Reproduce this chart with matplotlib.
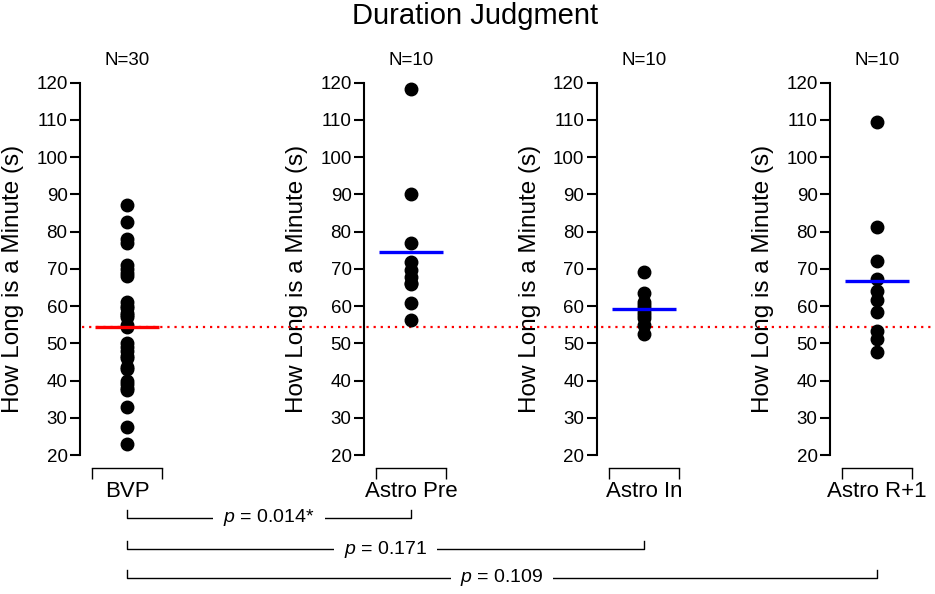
import numpy as np
import matplotlib
matplotlib.use("Agg")
import matplotlib.pyplot as plt
from matplotlib.lines import Line2D
from matplotlib.transforms import blended_transform_factory

plt.rcParams['font.family'] = ['Liberation Sans', 'DejaVu Sans']
plt.rcParams['mathtext.fontset'] = 'custom'
plt.rcParams['mathtext.rm'] = 'Liberation Sans'
plt.rcParams['mathtext.it'] = 'Liberation Sans:italic'

# data
groups = ["BVP", "Astro Pre", "Astro In", "Astro R+1"]
bvp = [87, 82.5, 78, 77, 71, 70, 69, 68, 61, 60, 59.5, 58, 57.5, 57, 55,
       54.5, 50, 49, 48, 46.5, 46, 43.5, 43, 40, 39, 38, 37.5, 33, 27.5, 23]
astro_pre = [118.3, 90.1, 77.0, 71.7, 69.7, 67.9, 66.1, 66.0, 60.9, 56.3]
astro_in = [69.1, 63.4, 61.0, 60.3, 59.5, 58.5, 57.5, 56.7, 54.9, 52.4]
astro_r1 = [109.5, 81.1, 72.2, 67.2, 64.0, 61.6, 58.5, 53.4, 51.1, 47.7]
all_data = [bvp, astro_pre, astro_in, astro_r1]
mean_colors = ["#ff0000", "#0000ff", "#0000ff", "#0000ff"]
p_labels = [r"$p$ = 0.014*", r"$p$ = 0.171", r"$p$ = 0.109"]
yticks = list(range(20, 121, 10))

W, H = 935, 594
fig = plt.figure(figsize=(W / 100, H / 100), dpi=100)

spine_x = [80, 364, 597, 830]   # left spine pixel of each panel
ax_w = 94
y_bot, y_top = 455, 82.6

axes = []
for i, vals in enumerate(all_data):
    ax = fig.add_axes([spine_x[i] / W, (H - y_bot) / H, ax_w / W, (y_bot - y_top) / H])
    ax.patch.set_visible(False)
    ax.set_xlim(-1, 1)
    ax.set_ylim(20, 120)
    ax.plot(np.zeros(len(vals)), vals, 'o', color='black', ms=9,
            clip_on=False, zorder=3)
    m = np.mean(vals)
    ax.plot([-0.68, 0.68], [m, m], color=mean_colors[i], lw=2.4, zorder=4,
            solid_capstyle='butt')
    ax.spines['top'].set_visible(False)
    ax.spines['right'].set_visible(False)
    ax.spines['left'].set_linewidth(1.5)
    ax.spines['left'].set_bounds(20, 120)
    ax.spines['bottom'].set_position(('outward', 9))
    ax.spines['bottom'].set_bounds(-0.75, 0.75)
    ax.spines['bottom'].set_linewidth(1.0)
    ax.set_xticks([-0.75, 0.75])
    ax.set_xticklabels(["", ""])
    ax.tick_params(axis='x', length=8, width=1.0, direction='out')
    ax.set_yticks(yticks)
    ax.tick_params(axis='y', length=7, width=1.5, pad=2, labelsize=13.5)
    ax.set_xlabel(groups[i], fontsize=16, labelpad=-2)
    ax.set_ylabel("How Long is a Minute (s)", fontsize=17.5)
    ax.yaxis.set_label_coords(-0.6, 0.473)
    ax.set_title("N=%d" % len(vals), fontsize=13.5, pad=13)
    axes.append(ax)

# dotted reference line at the BVP mean, across the whole figure
bvp_mean = np.mean(bvp)
tr = blended_transform_factory(fig.transFigure, axes[0].transData)
fig.add_artist(Line2D([82 / W, 932 / W], [bvp_mean, bvp_mean], transform=tr,
                      color='red', lw=1.6, ls=(0, (1, 2.2)), zorder=-1))

fig.text(475 / W, 1 - 16 / H, "Duration Judgment", fontsize=21,
         ha='center', va='center')

# comparison brackets below the panels
def data_x_fig(ax):
    return fig.transFigure.inverted().transform(ax.transData.transform((0, 20)))[0]

x0 = data_x_fig(axes[0])
bracket_y = [518, 549, 578]
for k in range(3):
    x1 = data_x_fig(axes[k + 1])
    yb = 1 - bracket_y[k] / H
    yt = 1 - (bracket_y[k] - 8) / H
    fig.add_artist(Line2D([x0, x0, x1, x1], [yt, yb, yb, yt], color='black',
                          lw=1.0, transform=fig.transFigure))
    fig.text((x0 + x1) / 2, yb, p_labels[k], fontsize=14, ha='center',
             va='center', bbox=dict(facecolor='white', edgecolor='none', pad=7),
             zorder=5)

fig.savefig("out.png", dpi=100)
